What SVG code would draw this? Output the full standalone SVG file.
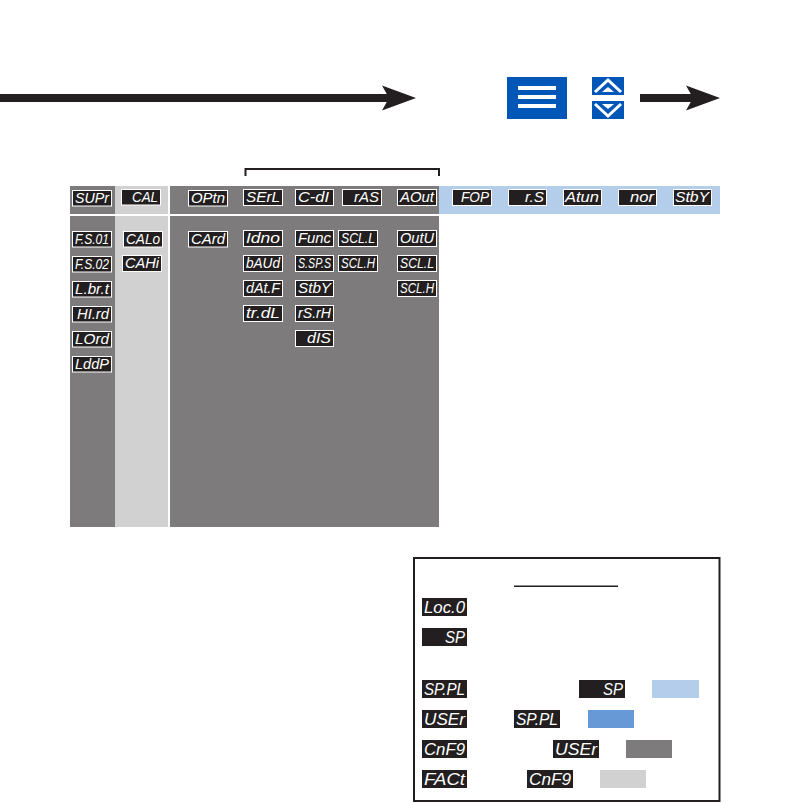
<svg xmlns="http://www.w3.org/2000/svg" width="792" height="803" viewBox="0 0 792 803">
<style>
.d{fill:#231f20;stroke:#fff;stroke-width:1}
.k{fill:#231f20}
.t{font-family:"Liberation Sans",Arial,sans-serif;font-style:italic;font-size:14px;fill:#fff;text-anchor:end}
.l{font-family:"Liberation Sans",Arial,sans-serif;font-style:italic;font-size:16.5px;fill:#fff;text-anchor:end}
.w{fill:none;stroke:#fff;stroke-width:3}
</style>
<defs>
<polygon id="head" points="0,0 34,12.500 0,25 7,12.500" fill="#231f20"/>
</defs>
<g id="bands">
<rect x="70" y="186" width="45" height="28" fill="#7d7b7c"/>
<rect x="115" y="186" width="53" height="28" fill="#d1d1d1"/>
<rect x="170" y="186" width="269" height="28" fill="#7d7b7c"/>
<rect x="439" y="186" width="281" height="28" fill="#b3cdea"/>
<rect x="70" y="216" width="45" height="311" fill="#7d7b7c"/>
<rect x="115" y="216" width="53" height="311" fill="#d1d1d1"/>
<rect x="170" y="216" width="269" height="311" fill="#7d7b7c"/>
</g>
<g id="connectors" fill="none">
<rect x="0" y="94" width="392" height="8" fill="#231f20"/>
<use href="#head" x="382" y="85.500"/>
<rect x="640" y="94" width="56" height="8" fill="#231f20"/>
<use href="#head" x="686" y="85.500"/>
<path d="M245.500 176V169H439V176" stroke="#231f20" stroke-width="2"/>
</g>
<g id="menu-key"><rect x="507" y="77" width="60" height="42" fill="#0057b8"/><rect x="518" y="86" width="38" height="4" fill="#fff"/><rect x="518" y="95" width="38" height="4" fill="#fff"/><rect x="518" y="104" width="38" height="4" fill="#fff"/></g>
<g id="up-key"><rect x="592" y="77" width="32" height="18" fill="#0057b8"/><path class="w" d="M595 92L608 80L621 92"/><polygon points="602,92 608,87 614,92" fill="#fff"/></g>
<g id="down-key"><rect x="592" y="101" width="32" height="18" fill="#0057b8"/><path class="w" d="M595 104L608 116L621 104"/><polygon points="602,104 608,109 614,104" fill="#fff"/></g>
<g id="d-SUPr"><rect class="d" x="72.500" y="190.500" width="39" height="15.500"/><text class="t" x="109" y="203" textLength="34" lengthAdjust="spacingAndGlyphs">SUPr</text></g>
<g id="d-CAL"><rect class="d" x="121.500" y="189.500" width="39" height="15.500"/><text class="t" x="158" y="202" textLength="26" lengthAdjust="spacingAndGlyphs">CAL</text></g>
<g id="d-OPtn"><rect class="d" x="188.500" y="190.500" width="39" height="15.500"/><text class="t" x="225" y="203" textLength="34" lengthAdjust="spacingAndGlyphs">OPtn</text></g>
<g id="d-SErL"><rect class="d" x="243.500" y="189.500" width="39" height="16"/><text class="t" x="280" y="202" textLength="34" lengthAdjust="spacingAndGlyphs">SErL</text></g>
<g id="d-C-dI"><rect class="d" x="295.500" y="189.500" width="38" height="16"/><text class="t" x="329" y="202" textLength="31" lengthAdjust="spacingAndGlyphs">C-dI</text></g>
<g id="d-rAS"><rect class="d" x="342.500" y="189.500" width="39" height="16"/><text class="t" x="379" y="202" textLength="25" lengthAdjust="spacingAndGlyphs">rAS</text></g>
<g id="d-AOut"><rect class="d" x="397.500" y="189.500" width="39" height="16"/><text class="t" x="434" y="202" textLength="34" lengthAdjust="spacingAndGlyphs">AOut</text></g>
<g id="d-FOP"><rect class="d" x="452.500" y="189.500" width="39" height="16"/><text class="t" x="489" y="202" textLength="28" lengthAdjust="spacingAndGlyphs">FOP</text></g>
<g id="d-rS"><rect class="d" x="508.500" y="189.500" width="38" height="16"/><text class="t" x="544" y="202" textLength="19" lengthAdjust="spacingAndGlyphs">r.S</text></g>
<g id="d-Atun"><rect class="d" x="563.500" y="189.500" width="38" height="16"/><text class="t" x="599" y="202" textLength="34" lengthAdjust="spacingAndGlyphs">Atun</text></g>
<g id="d-nor"><rect class="d" x="618.500" y="189.500" width="38" height="16"/><text class="t" x="654" y="202" textLength="24" lengthAdjust="spacingAndGlyphs">nor</text></g>
<g id="d-StbY"><rect class="d" x="673.500" y="189.500" width="38" height="16"/><text class="t" x="709" y="202" textLength="34" lengthAdjust="spacingAndGlyphs">StbY</text></g>
<g id="d-FS01"><rect class="d" x="72.500" y="231.500" width="39" height="15.500"/><text class="t" x="109" y="244" textLength="34" lengthAdjust="spacingAndGlyphs">F.S.01</text></g>
<g id="d-FS02"><rect class="d" x="72.500" y="256.500" width="39" height="15.500"/><text class="t" x="109" y="269" textLength="34" lengthAdjust="spacingAndGlyphs">F.S.02</text></g>
<g id="d-Lbrt"><rect class="d" x="72.500" y="281.500" width="39" height="15.500"/><text class="t" x="109" y="294" textLength="34" lengthAdjust="spacingAndGlyphs">L.br.t</text></g>
<g id="d-HIrd"><rect class="d" x="72.500" y="306.500" width="39" height="15.500"/><text class="t" x="109" y="319" textLength="32" lengthAdjust="spacingAndGlyphs">HI.rd</text></g>
<g id="d-LOrd"><rect class="d" x="72.500" y="331.500" width="39" height="15.500"/><text class="t" x="109" y="344" textLength="34" lengthAdjust="spacingAndGlyphs">LOrd</text></g>
<g id="d-LddP"><rect class="d" x="72.500" y="356.500" width="39" height="15.500"/><text class="t" x="109" y="369" textLength="34" lengthAdjust="spacingAndGlyphs">LddP</text></g>
<g id="d-CALo"><rect class="d" x="123.500" y="231.500" width="39" height="15.500"/><text class="t" x="160" y="244" textLength="34" lengthAdjust="spacingAndGlyphs">CALo</text></g>
<g id="d-CAHi"><rect class="d" x="122.500" y="255.500" width="39" height="16"/><text class="t" x="159" y="268" textLength="34" lengthAdjust="spacingAndGlyphs">CAHi</text></g>
<g id="d-CArd"><rect class="d" x="188.500" y="231.500" width="39" height="15.500"/><text class="t" x="225" y="244" textLength="34" lengthAdjust="spacingAndGlyphs">CArd</text></g>
<g id="d-Idno"><rect class="d" x="243.500" y="230.500" width="39" height="16"/><text class="t" x="280" y="243" textLength="34" lengthAdjust="spacingAndGlyphs">Idno</text></g>
<g id="d-bAUd"><rect class="d" x="243.500" y="255.500" width="39" height="16"/><text class="t" x="280" y="268" textLength="34" lengthAdjust="spacingAndGlyphs">bAUd</text></g>
<g id="d-dAtF"><rect class="d" x="243.500" y="280.500" width="39" height="16"/><text class="t" x="280" y="293" textLength="34" lengthAdjust="spacingAndGlyphs">dAt.F</text></g>
<g id="d-trdL"><rect class="d" x="243.500" y="305.500" width="39" height="16"/><text class="t" x="280" y="318" textLength="34" lengthAdjust="spacingAndGlyphs">tr.dL</text></g>
<g id="d-Func"><rect class="d" x="295.500" y="230.500" width="38" height="16"/><text class="t" x="331" y="243" textLength="33" lengthAdjust="spacingAndGlyphs">Func</text></g>
<g id="d-SSPS"><rect class="d" x="295.500" y="255.500" width="38" height="16"/><text class="t" x="331" y="268" textLength="33" lengthAdjust="spacingAndGlyphs">S.SP.S</text></g>
<g id="d-StbY2"><rect class="d" x="295.500" y="280.500" width="38" height="16"/><text class="t" x="331" y="293" textLength="33" lengthAdjust="spacingAndGlyphs">StbY</text></g>
<g id="d-rSrH"><rect class="d" x="295.500" y="305.500" width="38" height="16"/><text class="t" x="331" y="318" textLength="33" lengthAdjust="spacingAndGlyphs">rS.rH</text></g>
<g id="d-dIS"><rect class="d" x="295.500" y="330.500" width="38" height="16"/><text class="t" x="331" y="343" textLength="24" lengthAdjust="spacingAndGlyphs">dIS</text></g>
<g id="d-SCLL"><rect class="d" x="338.500" y="230.500" width="39" height="16"/><text class="t" x="375" y="243" textLength="34" lengthAdjust="spacingAndGlyphs">SCL.L</text></g>
<g id="d-SCLH"><rect class="d" x="338.500" y="255.500" width="39" height="16"/><text class="t" x="375" y="268" textLength="34" lengthAdjust="spacingAndGlyphs">SCL.H</text></g>
<g id="d-OutU"><rect class="d" x="397.500" y="230.500" width="39" height="16"/><text class="t" x="434" y="243" textLength="34" lengthAdjust="spacingAndGlyphs">OutU</text></g>
<g id="d-SCLL2"><rect class="d" x="397.500" y="255.500" width="39" height="16"/><text class="t" x="434" y="268" textLength="34" lengthAdjust="spacingAndGlyphs">SCL.L</text></g>
<g id="d-SCLH2"><rect class="d" x="397.500" y="280.500" width="39" height="16"/><text class="t" x="434" y="293" textLength="34" lengthAdjust="spacingAndGlyphs">SCL.H</text></g>
<g id="legend">
<rect x="414" y="558" width="305.500" height="243" fill="#fff" stroke="#231f20" stroke-width="2"/>
<rect x="514" y="585.500" width="104" height="1.500" fill="#231f20"/>
<rect class="k" x="422" y="598" width="45" height="18"/><text class="l" x="465" y="613" textLength="41" lengthAdjust="spacingAndGlyphs">Loc.0</text>
<rect class="k" x="422" y="628" width="45" height="18"/><text class="l" x="465" y="643" textLength="20" lengthAdjust="spacingAndGlyphs">SP</text>
<rect class="k" x="422" y="680" width="45" height="18"/><text class="l" x="465" y="695" textLength="41" lengthAdjust="spacingAndGlyphs">SP.PL</text>
<rect class="k" x="579" y="680" width="46" height="18"/><text class="l" x="623" y="695" textLength="20" lengthAdjust="spacingAndGlyphs">SP</text>
<rect x="652" y="680" width="47" height="18" fill="#b3cdea"/>
<rect class="k" x="422" y="710" width="45" height="18"/><text class="l" x="465" y="725" textLength="41" lengthAdjust="spacingAndGlyphs">USEr</text>
<rect class="k" x="514" y="710" width="46" height="18"/><text class="l" x="558" y="725" textLength="42" lengthAdjust="spacingAndGlyphs">SP.PL</text>
<rect x="588" y="710" width="46" height="18" fill="#6699d6"/>
<rect class="k" x="422" y="740" width="45" height="18"/><text class="l" x="465" y="755" textLength="41" lengthAdjust="spacingAndGlyphs">CnF9</text>
<rect class="k" x="553" y="740" width="46" height="18"/><text class="l" x="597" y="755" textLength="42" lengthAdjust="spacingAndGlyphs">USEr</text>
<rect x="626" y="740" width="46" height="18" fill="#7d7b7c"/>
<rect class="k" x="422" y="770" width="45" height="18"/><text class="l" x="465" y="785" textLength="41" lengthAdjust="spacingAndGlyphs">FACt</text>
<rect class="k" x="527" y="770" width="46" height="18"/><text class="l" x="571" y="785" textLength="42" lengthAdjust="spacingAndGlyphs">CnF9</text>
<rect x="600" y="770" width="46" height="18" fill="#d1d1d1"/>
</g>
</svg>
